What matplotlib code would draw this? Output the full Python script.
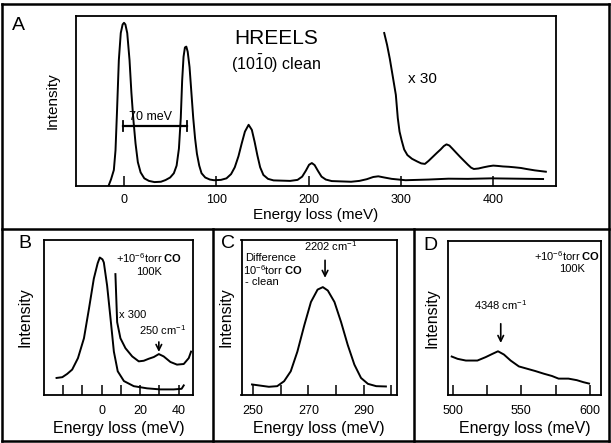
import matplotlib
matplotlib.use("Agg")
import matplotlib.pyplot as plt
from matplotlib.lines import Line2D

plt.rcParams['font.family'] = ['Liberation Sans', 'DejaVu Sans']
plt.rcParams['mathtext.fontset'] = 'custom'
plt.rcParams['mathtext.rm'] = 'Liberation Sans'
plt.rcParams['mathtext.bf'] = 'Liberation Sans:bold'
plt.rcParams['mathtext.it'] = 'Liberation Sans:italic'

# ---------------- data ----------------
# Panel A : HREELS clean surface
a_main_x = [-16.8, -14, -11, -9.2, -7.5, -5.6, -3.5, -1.5, 0, 1.5, 3.5, 6, 8, 10, 12.5, 15, 18, 22,
            27, 33, 40, 45, 50, 54, 57, 59.5, 61.5, 63, 64.5, 66, 67.5, 69, 71, 73, 75, 77, 79,
            81.5, 84, 88, 93, 97.5, 105, 111, 116, 120, 124, 127.5, 131, 135, 138.5, 141.5, 144.5,
            147.5, 151, 156, 162, 180, 188, 193, 197, 200.5, 203.5, 206.5, 210, 214, 218.6, 225,
            246, 255, 263, 270, 275.5, 282, 290, 305, 330, 351.5, 372.6, 398, 454]
a_main_y = [0, 4, 9.4, 21, 45, 74, 90, 95, 96, 95, 90, 74, 55, 40, 25, 14, 8, 4.5,
            3, 2.3, 2.5, 3.5, 5, 7.5, 12, 22, 40, 62, 76, 81.5, 82, 79, 70, 55, 40, 28, 19,
            12, 7.5, 5, 3.8, 3.4, 3.6, 4.5, 7, 11, 17.5, 25, 32, 36, 33, 26, 18,
            11, 6.5, 4.2, 3.3, 3, 3.6, 5.5, 9, 12.5, 13.5, 12.3, 9, 5.5, 3.8, 2.9,
            2.5, 3, 4, 5.3, 5.7, 5, 4.2, 3.4, 3.8, 4.3, 4.2, 4.5, 4.1]
a_x30_x = [281.9, 285, 288, 291, 294.5, 296.6, 298.5, 300.8, 303.5, 307, 312, 317.7, 322, 326, 330,
           334.6, 339, 343, 346.5, 349.4, 352.5, 355.7, 360, 364, 368, 372.6, 376, 379, 384, 389.5,
           395, 400, 405, 410.5, 417, 423, 430, 436, 445, 457]
a_x30_y = [90, 83, 74.7, 65, 53.6, 40, 32, 26.8, 21.5, 18.2, 16, 14.4, 13.3, 13, 14.8,
           17.2, 19.5, 21.5, 23.5, 24.5, 23.8, 22, 19.5, 17.2, 15, 12.5, 10.8, 10, 10.3, 11,
           11.6, 12, 11.8, 11.5, 11.3, 11, 10.6, 10, 9.2, 8.4]
a_ticks = [0, 100, 200, 300, 400]
a_ticklabels = ['0', '100', '200', '300', '400']

# Panel B : +1e-6 torr CO, 100K
b_main_x = [-23.3, -20.3, -17.8, -15.2, -12.2, -9.1, -6.5, -4, -2, -0.9, 0.5, 1.2, 2.9, 4.7, 6.4,
            8.4, 11.6, 16.7, 23.6, 30.5, 37.4, 41.5, 42.6]
b_main_y = [11, 11.5, 13.6, 16.4, 23.8, 36.6, 55.7, 75, 85, 88.7, 87.5, 85.5, 70.6, 49, 28,
            15.3, 9, 5.7, 4.3, 3.6, 3.6, 4, 6.2]
b_x300_x = [7.2, 8.1, 9.8, 12.4, 15.9, 19.3, 21.9, 24.5, 27.1, 29.7, 32.2, 35.7, 39.1, 42.6, 45.2, 46.4]
b_x300_y = [78, 47, 36.6, 30.2, 24.9, 21.7, 22.1, 23.4, 24.5, 26.4, 24.9, 21.3, 19.6, 20, 23.8, 28]
b_ticks = [-20, -10, 0, 10, 20, 30, 40]
b_ticklabels = ['', '', '0', '', '20', '', '40']

# Panel C : difference spectrum
c_x = [249.6, 252, 255.7, 258.7, 261.2, 263.6, 266, 268.5, 270.9, 273.3, 275.2, 277, 279.4,
       281.8, 284.2, 286.6, 289, 291.5, 294.5, 298]
c_y = [6.8, 6.2, 5.3, 5.7, 8.9, 15.3, 28, 45, 60, 68, 69.6, 67.4, 60,
       47, 32.3, 19.6, 11, 7.2, 5.7, 5.5]
c_ticks = [250, 260, 270, 280, 290, 300]
c_ticklabels = ['250', '', '270', '', '290', '']

# Panel D : overtone region
d_x = [499.3, 503.6, 509.6, 518, 524, 528.9, 533, 537.3, 542.2, 548.2, 554.2, 560.2, 566.3,
       572.3, 577.1, 584.3, 590.4, 595.2, 599.3]
d_y = [24.9, 23.4, 22.3, 22.3, 24.5, 26.6, 28.3, 26.2, 22.3, 18.5, 17, 15.5, 13.8,
       12.3, 10.6, 10.6, 9.6, 8.3, 7.4]
d_ticks = [500, 525, 550, 575, 600]
d_ticklabels = ['500', '', '550', '', '600']

# ---------------- figure ----------------
W, H = 611, 443
fig = plt.figure(figsize=(W / 100, H / 100), dpi=100)


def px_axes(l, r, t, b):
    return fig.add_axes([l / W, 1 - b / H, (r - l) / W, (b - t) / H])


LW = 1.4


def style(ax, xlim, ticks, labels, fs_tick, fs_lab, labelpad_y, tickpad, xlabelpad):
    ax.set_xlim(*xlim)
    ax.set_ylim(0, 100)
    ax.set_yticks([])
    ax.set_xticks(ticks)
    ax.set_xticklabels(labels)
    ax.tick_params(axis='x', direction='in', length=7, width=1.1, labelsize=fs_tick, pad=tickpad)
    for s in ax.spines.values():
        s.set_linewidth(1.3)
    ax.set_ylabel('Intensity', fontsize=fs_lab, labelpad=labelpad_y)
    ax.set_xlabel('Energy loss (meV)', fontsize=fs_lab, labelpad=xlabelpad)


ANN = 8

# Panel A
axA = px_axes(76, 556, 16, 186)
axA.plot(a_main_x, a_main_y, color='black', lw=LW)
axA.plot(a_x30_x, a_x30_y, color='black', lw=LW)
style(axA, (-52, 468), a_ticks, a_ticklabels, 9, 11, 12, 6, 1)
axA.plot([-1, 68], [35.4, 35.4], color='black', lw=1.6)
axA.plot([-1, -1], [32.5, 38.3], color='black', lw=1.3)
axA.plot([68, 68], [32.5, 38.3], color='black', lw=1.3)
axA.text(5, 40.5, '70 meV', fontsize=9, ha='left', va='center')
axA.text(165, 87, 'HREELS', fontsize=15, ha='center', va='center')
axA.text(165, 71.5, r'(10$\bar{\mathrm{1}}$0) clean', fontsize=11.5, ha='center', va='center')
axA.text(308, 62.8, 'x 30', fontsize=11, ha='left', va='center')
fig.text(12 / W, 1 - 26 / H, 'A', fontsize=14, ha='left', va='center')

# Panel B
axB = px_axes(44, 193, 240, 395)
axB.plot(b_main_x, b_main_y, color='black', lw=LW)
axB.plot(b_x300_x, b_x300_y, color='black', lw=LW)
style(axB, (-29.8, 47.4), b_ticks, b_ticklabels, 9, 11.5, 8, 7, 3)
axB.text(24.5, 88.5, r'+10$^{-6}$torr $\mathbf{CO}$', fontsize=ANN, ha='center', va='center')
axB.text(24.5, 79.5, '100K', fontsize=ANN, ha='center', va='center')
axB.text(8.8, 51.5, 'x 300', fontsize=ANN, ha='left', va='center')
axB.text(31.4, 42, r'250 cm$^{-1}$', fontsize=ANN, ha='center', va='center')
axB.annotate('', xy=(29.7, 26), xytext=(29.7, 36),
             arrowprops=dict(arrowstyle='->', lw=1.2, color='black', mutation_scale=10))
fig.text(18 / W, 1 - 243 / H, 'B', fontsize=14, ha='left', va='center')

# Panel C
axC = px_axes(241.5, 396.7, 240, 395)
axC.plot(c_x, c_y, color='black', lw=LW)
style(axC, (245.8, 301.9), c_ticks, c_ticklabels, 9, 11.5, 6, 7, 3)
axC.text(278, 96, r'2202 cm$^{-1}$', fontsize=ANN, ha='center', va='center')
axC.annotate('', xy=(276, 73.8), xytext=(276, 88.7),
             arrowprops=dict(arrowstyle='->', lw=1.2, color='black', mutation_scale=10))
axC.text(247.2, 88.3, 'Difference', fontsize=ANN, ha='left', va='center')
axC.text(246.4, 80.8, r'10$^{-6}$torr $\mathbf{CO}$', fontsize=ANN, ha='left', va='center')
axC.text(247.2, 72.6, '- clean', fontsize=ANN, ha='left', va='center')
fig.text(221 / W, 1 - 244 / H, 'C', fontsize=14, ha='left', va='center')

# Panel D
axD = px_axes(448, 601, 240.5, 395)
axD.plot(d_x, d_y, color='black', lw=LW)
style(axD, (496.6, 608), d_ticks, d_ticklabels, 9, 11.5, 6, 7, 3)
axD.text(583, 89.8, r'+10$^{-6}$torr $\mathbf{CO}$', fontsize=ANN, ha='center', va='center')
axD.text(586.7, 81.5, '100K', fontsize=ANN, ha='center', va='center')
axD.text(535, 58.5, r'4348 cm$^{-1}$', fontsize=ANN, ha='center', va='center')
axD.annotate('', xy=(535, 31.9), xytext=(535, 47.9),
             arrowprops=dict(arrowstyle='->', lw=1.2, color='black', mutation_scale=10))
fig.text(423 / W, 1 - 246 / H, 'D', fontsize=14, ha='left', va='center')

# frame lines
FLW = 1.8


def fline(x0, y0, x1, y1):
    fig.add_artist(Line2D([x0 / W, x1 / W], [1 - y0 / H, 1 - y1 / H], color='black', lw=FLW,
                          transform=fig.transFigure))


fline(2, 3.5, 609, 3.5)
fline(2, 228.5, 609, 228.5)
fline(2, 441, 609, 441)
fline(2, 3.5, 2, 441)
fline(609, 3.5, 609, 441)
fline(213, 228.5, 213, 441)
fline(413.5, 228.5, 413.5, 441)

fig.savefig('out.png', dpi=100)
